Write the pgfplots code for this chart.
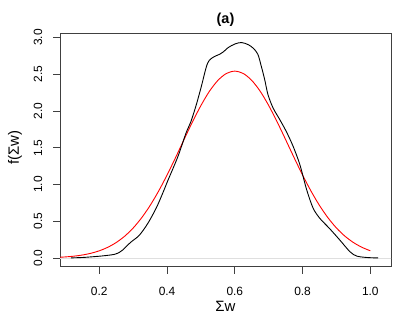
\documentclass[border=0pt]{standalone}
\usepackage{fontspec}
\setmainfont{Liberation Sans}
\usepackage{pgfplots}
\pgfplotsset{compat=1.18}

\begin{document}
\begin{tikzpicture}
\path[use as bounding box] (0,0) rectangle (407bp,330bp);
\begin{axis}[
  at={(60bp,63.3bp)}, anchor=south west,
  scale only axis, width=331bp, height=233bp,
  xmin=0.084, xmax=1.061, ymin=-0.117, ymax=3.05,
  /pgf/number format/assume math mode=true,
  xtick={0.2,0.4,0.6,0.8,1.0}, ytick={0,0.5,1,1.5,2,2.5,3},
  /pgf/number format/.cd, fixed, fixed zerofill, precision=1, /pgfplots/.cd,
  tick align=outside, tick pos=left, major tick length=7bp,
  axis line style={black!75, line width=0.9bp},
  every tick/.style={black!75, line width=0.8bp},
  xticklabel style={font=\fontsize{12}{14}\selectfont, anchor=center, yshift=-18bp},
  yticklabel style={font=\fontsize{12}{14}\selectfont, anchor=center, xshift=-15bp, rotate=90},
  xlabel={Σw}, ylabel={f(Σw)},
  xlabel style={font=\fontsize{15}{17}\selectfont, at={(axis description cs:0.5,-0.172)}, anchor=center},
  ylabel style={font=\fontsize{15}{17}\selectfont, at={(axis description cs:-0.136,0.51)}, anchor=center},
  title={\textbf{(a)}},
  title style={font=\fontsize{14.5}{16}\selectfont, at={(axis description cs:0.5,1.033)}, anchor=center},
]
% zero line
\addplot[gray!25, line width=0.8bp] coordinates {(0,0) (1.2,0)};
% fitted normal
\addplot[red, line width=0.9bp, smooth] coordinates {
  (0.000,0.0017) (0.025,0.0031) (0.050,0.0055) (0.075,0.0095) (0.100,0.0160)
  (0.125,0.0261) (0.150,0.0418) (0.175,0.0651) (0.200,0.0990) (0.225,0.147)
  (0.250,0.212) (0.275,0.298) (0.300,0.409) (0.325,0.548) (0.350,0.715)
  (0.375,0.910) (0.400,1.129) (0.425,1.365) (0.450,1.610) (0.475,1.851)
  (0.500,2.074) (0.525,2.267) (0.550,2.415) (0.575,2.509) (0.600,2.541)
  (0.625,2.509) (0.650,2.415) (0.675,2.267) (0.700,2.074) (0.725,1.851)
  (0.750,1.610) (0.775,1.365) (0.800,1.129) (0.825,0.910) (0.850,0.715)
  (0.875,0.548) (0.900,0.409) (0.925,0.298) (0.950,0.212) (0.975,0.147)
  (1.000,0.0990)
};
% kernel density
\addplot[black, line width=0.9bp, smooth] coordinates {
  (0.116,0.003) (0.150,0.008) (0.180,0.018) (0.210,0.030) (0.244,0.050)
  (0.260,0.080) (0.269,0.110) (0.280,0.160) (0.294,0.220) (0.318,0.310)
  (0.343,0.470) (0.368,0.680) (0.387,0.880) (0.402,1.050) (0.432,1.380)
  (0.456,1.700) (0.470,1.850) (0.486,2.080) (0.501,2.330) (0.516,2.600)
  (0.525,2.690) (0.540,2.740) (0.555,2.770) (0.568,2.810) (0.580,2.860)
  (0.600,2.910) (0.620,2.930) (0.640,2.900) (0.655,2.850) (0.668,2.770)
  (0.678,2.610) (0.688,2.430) (0.698,2.220) (0.713,2.040) (0.733,1.880)
  (0.752,1.720) (0.772,1.520) (0.792,1.270) (0.812,0.930) (0.831,0.680)
  (0.851,0.540) (0.880,0.400) (0.910,0.245) (0.940,0.086) (0.960,0.027)
  (0.990,0.008) (1.023,0.002)
};
\end{axis}
\end{tikzpicture}
\end{document}
